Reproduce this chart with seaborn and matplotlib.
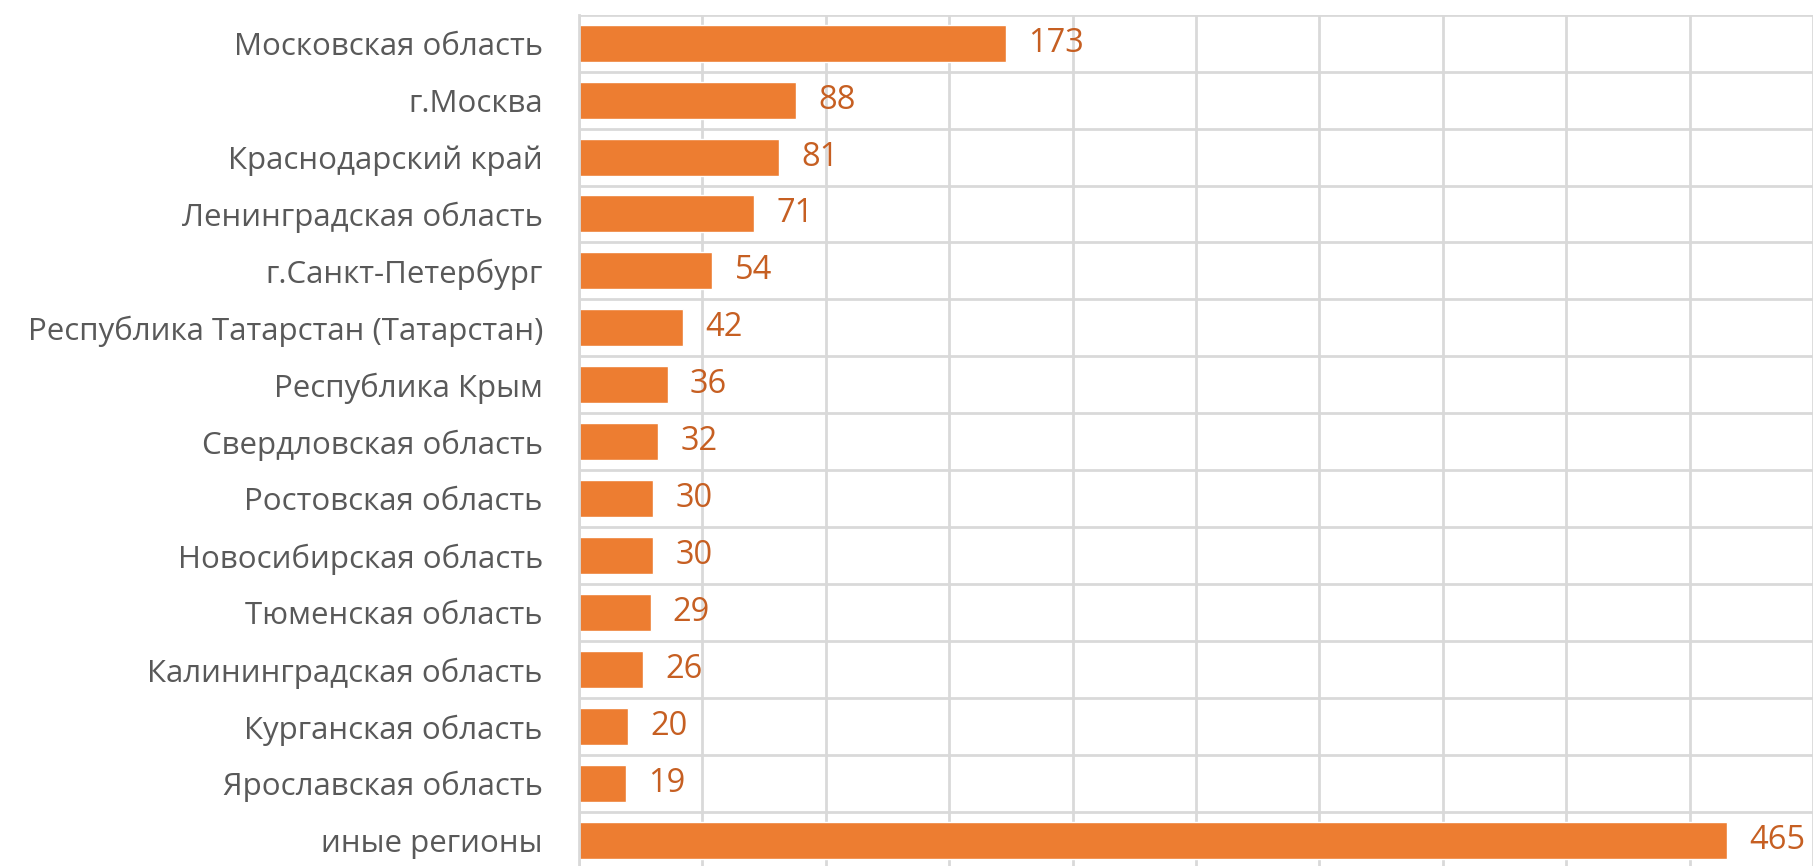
import matplotlib
matplotlib.use("Agg")
import matplotlib.pyplot as plt
import pandas as pd
import seaborn as sns

# data
regions = ['Московская область', 'г.Москва', 'Краснодарский край',
           'Ленинградская область', 'г.Санкт-Петербург',
           'Республика Татарстан (Татарстан)', 'Республика Крым',
           'Свердловская область', 'Ростовская область',
           'Новосибирская область', 'Тюменская область',
           'Калининградская область', 'Курганская область',
           'Ярославская область', 'иные регионы']
counts = [173, 88, 81, 71, 54, 42, 36, 32, 30, 30, 29, 26, 20, 19, 465]

df = pd.DataFrame({'region': regions, 'count': counts})

sns.set_style('white')
plt.rcParams['font.family'] = ['Open Sans', 'DejaVu Sans']

fig = plt.figure(figsize=(18.13, 8.66), dpi=100)
ax = fig.add_axes([579 / 1813, 1 - 868.7 / 866, 1 - 579 / 1813, 854 / 866])

sns.barplot(data=df, y='region', x='count', orient='h', color='#ED7D31',
            saturation=1, width=0.65, ax=ax)

ax.set_xlim(0, 500)
ax.set_ylim(len(regions) - 0.5, -0.5)
ax.set_xticks(range(0, 501, 50))
ax.set_yticks([i + 0.5 for i in range(-1, len(regions))], minor=True)
ax.grid(False)
ax.grid(True, which='major', axis='x', color='#D9D9D9', linewidth=2)
ax.grid(True, which='minor', axis='y', color='#D9D9D9', linewidth=2)
ax.set_axisbelow(True)
for s in ax.spines.values():
    s.set_visible(False)
ax.spines['left'].set_visible(True)
ax.spines['left'].set_color('#D9D9D9')
ax.spines['left'].set_linewidth(2)

ax.set_xlabel('')
ax.set_ylabel('')
ax.tick_params(axis='x', labelbottom=False, length=0)
ax.tick_params(axis='y', which='both', length=0, pad=26, labelsize=22.5,
               labelcolor='#595959')

for i, v in enumerate(counts):
    ax.text(v + 9, i, str(v), va='center', ha='left', fontsize=23.5,
            color='#C65F22', clip_on=False)

fig.savefig('out.png', dpi=100)
